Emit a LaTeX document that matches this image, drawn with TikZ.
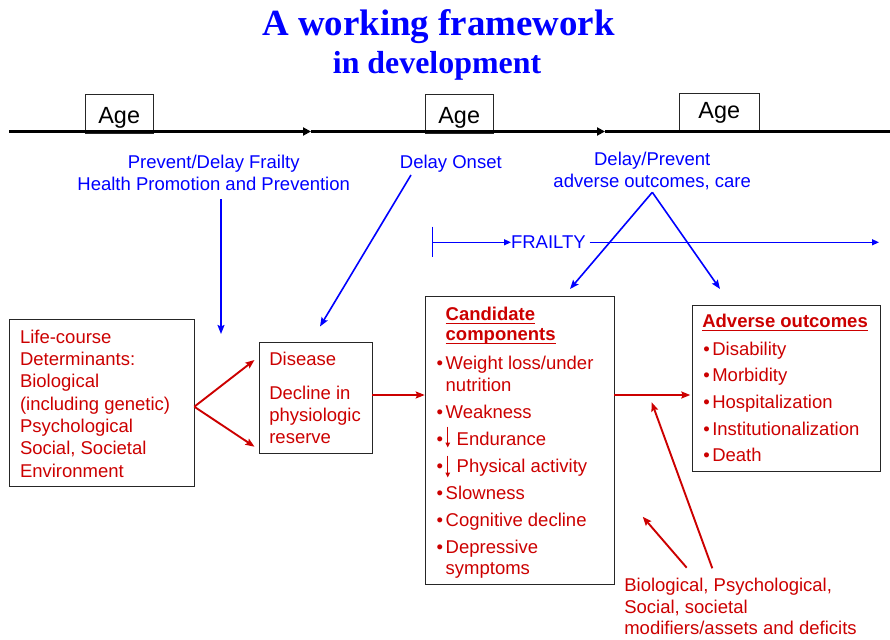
\documentclass[tikz,border=0pt]{standalone}
\usepackage{fontspec}
\setmainfont{Liberation Sans}
\newfontfamily\titlefont{Liberation Serif}
\usetikzlibrary{arrows.meta}
\definecolor{fred}{RGB}{204,0,0}
\definecolor{fblue}{RGB}{0,0,255}
\newcommand\redul[1]{\setbox0\hbox{#1}\rlap{\rule[-3.6pt]{\wd0}{1.7pt}}\box0}
\newcommand\bul{\makebox[9pt][l]{\textbullet}}
\newcommand\bular{\makebox[20pt][l]{\textbullet}}
\tikzset{
  every node/.style={inner sep=0pt, outer sep=0pt},
  body/.style={font=\fontsize{18.5}{22.3}\selectfont, anchor=base west},
  rtxt/.style={body, text=fred},
  btxt/.style={font=\fontsize{18.5}{22.3}\selectfont, anchor=base, text=fblue},
  agetxt/.style={font=\fontsize{23.4}{26}\selectfont, anchor=base},
  frame/.style={draw=black!85, line width=0.9pt, fill=white, anchor=north west},
  redarr/.style={draw=fred, line width=1.9pt, -{Stealth[length=9pt,width=7pt,inset=1.5pt]}},
  bluearr/.style={draw=fblue, line width=1.6pt, -{Stealth[length=9pt,width=7pt,inset=1.5pt]}},
  thinblue/.style={draw=fblue, line width=1.3pt},
  timeline/.style={draw=black, line width=3pt},
  tlarr/.style={timeline, -{Triangle[length=8pt,width=8pt]}},
  smallarr/.style={draw=fred, line width=1.5pt, -{Triangle[length=5pt,width=4.5pt]}}
}
\begin{document}
\begin{tikzpicture}[x=1pt,y=-1pt]
\useasboundingbox (0,0) rectangle (890,639);

% title
\node[anchor=base, text=fblue, font=\titlefont\bfseries\fontsize{36.9}{40}\selectfont] (title1) at (438.5,36) {A working framework};
\node[anchor=base, text=fblue, font=\titlefont\bfseries\fontsize{31.9}{36}\selectfont] (title2) at (437,74) {in development};

% age boxes
\node[frame, minimum width=68.3pt, minimum height=39pt] (age1) at (85,94.3) {};
\node[frame, minimum width=68.3pt, minimum height=39pt] (age2) at (425,94.3) {};
\node[frame, minimum width=80pt, minimum height=38pt] (age3) at (679.3,93.3) {};
\node[agetxt] (age1t) at (119.2,123.3) {Age};
\node[agetxt] (age2t) at (459.2,123.3) {Age};
\node[agetxt] (age3t) at (719.3,118.3) {Age};

% timeline
\coordinate (tl0) at (9.3,131.5);
\coordinate (tl1) at (311,131.5);
\coordinate (tl2) at (605,131.5);
\coordinate (tl3) at (890,131.5);
\draw[tlarr] (tl0) -- (tl1);
\draw[tlarr] (tl1) -- (tl2);
\draw[timeline] (tl2) -- (tl3);

% blue texts
\node[btxt] (pd1) at (213.7,168.3) {Prevent/Delay Frailty};
\node[btxt] (pd2) at (213.7,190.5) {Health Promotion and Prevention};
\node[btxt] (don) at (450.8,168.3) {Delay Onset};
\node[btxt] (dp1) at (652.2,165) {Delay/Prevent};
\node[btxt] (dp2) at (652.2,187.3) {adverse outcomes, care};

% frailty line
\coordinate (fk1) at (432.7,226.7);
\coordinate (fk2) at (432.7,257.3);
\draw[thinblue] (fk1) -- (fk2);
\node[btxt, anchor=base west] (frailty) at (511,248.6) {FRAILTY};
\coordinate (fs) at (432.7,242.3);
\draw[thinblue, -{Triangle[length=7pt,width=6pt]}] (fs) -- (frailty.west |- fs);
\coordinate (fe) at (879,242.3);
\draw[thinblue, -{Triangle[length=7pt,width=6pt]}] ([xshift=4pt]frailty.east |- fs) -- (fe);

% boxes
\node[frame, minimum width=184.7pt, minimum height=166.7pt] (lc) at (9.3,319.3) {};
\node[frame, minimum width=113.3pt, minimum height=111pt] (dis) at (259,342.3) {};
\node[frame, minimum width=188.6pt, minimum height=287.6pt] (cand) at (425.7,296.7) {};
\node[frame, minimum width=187.7pt, minimum height=166.7pt] (adv) at (692.3,305) {};

% life-course text
\node[rtxt] (lc1) at (20,343.3) {Life-course};
\node[rtxt] (lc2) at (20,365.5) {Determinants:};
\node[rtxt] (lc3) at (20,387.9) {Biological};
\node[rtxt] (lc4) at (20,410.2) {(including genetic)};
\node[rtxt] (lc5) at (20,432.5) {Psychological};
\node[rtxt] (lc6) at (20,454.8) {Social, Societal};
\node[rtxt] (lc7) at (20,477.1) {Environment};

% disease text
\node[rtxt] (d1) at (269.3,365.7) {Disease};
\node[rtxt] (d2) at (269.3,399) {Decline in};
\node[rtxt] (d3) at (269.3,421.2) {physiologic};
\node[rtxt] (d4) at (269.3,443.4) {reserve};

% candidate components
\node[rtxt, font=\fontsize{18.5}{22.3}\selectfont\bfseries] (c0) at (445.7,320.8) {\redul{Candidate}};
\node[rtxt, font=\fontsize{18.5}{22.3}\selectfont\bfseries] (c0b) at (445.7,340.8) {\redul{components}};
\node[rtxt] (c1) at (436.7,369.8) {\bul Weight loss/under};
\node[rtxt] (c1b) at (445.7,391.7) {nutrition};
\node[rtxt] (c2) at (436.7,418.8) {\bul Weakness};
\node[rtxt] (c3) at (436.7,445.3) {\bular Endurance};
\node[rtxt] (c4) at (436.7,472.2) {\bular Physical activity};
\node[rtxt] (c5) at (436.7,499) {\bul Slowness};
\node[rtxt] (c6) at (436.7,526) {\bul Cognitive decline};
\node[rtxt] (c7) at (436.7,553) {\bul Depressive};
\node[rtxt] (c7b) at (445.7,574.5) {symptoms};
\coordinate (ea1) at (447.7,426.7);
\coordinate (ea2) at (447.7,447.5);
\coordinate (pa1) at (447.7,455.7);
\coordinate (pa2) at (447.7,477.5);
\draw[smallarr] (ea1) -- (ea2);
\draw[smallarr] (pa1) -- (pa2);

% adverse outcomes
\node[rtxt, font=\fontsize{18.5}{22.3}\selectfont\bfseries] (a0) at (702.3,327.8) {\redul{Adverse outcomes}};
\node[rtxt] (a1) at (703.3,355) {\bul Disability};
\node[rtxt] (a2) at (703.3,381.7) {\bul Morbidity};
\node[rtxt] (a3) at (703.3,408.3) {\bul Hospitalization};
\node[rtxt] (a4) at (703.3,435) {\bul Institutionalization};
\node[rtxt] (a5) at (703.3,461.7) {\bul Death};

% modifiers
\node[rtxt] (m1) at (624.3,591.5) {Biological, Psychological,};
\node[rtxt] (m2) at (624.3,613.3) {Social, societal};
\node[rtxt] (m3) at (624.3,634.5) {modifiers/assets and deficits};

% red arrows
\coordinate (fan) at (194.3,406.7);
\coordinate (fanup) at (254.5,360);
\coordinate (fandn) at (254.5,446.7);
\draw[redarr] (fan) -- (fanup);
\draw[redarr] (fan) -- (fandn);
\draw[redarr] (dis.east |- 0,395) -- ([xshift=-1pt]cand.west |- 0,395);
\draw[redarr] (cand.east |- 0,395) -- ([xshift=-2pt]adv.west |- 0,395);
\coordinate (mod1s) at (712.3,568.3);
\coordinate (mod1e) at (651.7,402.3);
\coordinate (mod2s) at (686.7,567.7);
\coordinate (mod2e) at (642.7,516.7);
\draw[redarr] (mod1s) -- (mod1e);
\draw[redarr] (mod2s) -- (mod2e);

% blue arrows
\coordinate (v1s) at (221,199);
\coordinate (v1e) at (221,334);
\draw[bluearr] (v1s) -- (v1e);
\coordinate (v2s) at (411,175);
\coordinate (v2e) at (320,326.5);
\draw[bluearr] (v2s) -- (v2e);
\coordinate (peak) at (652.3,192.3);
\coordinate (pl) at (570,289);
\coordinate (pr) at (720,289);
\draw[bluearr] (peak) -- (pl);
\draw[bluearr] (peak) -- (pr);
\end{tikzpicture}
\end{document}
